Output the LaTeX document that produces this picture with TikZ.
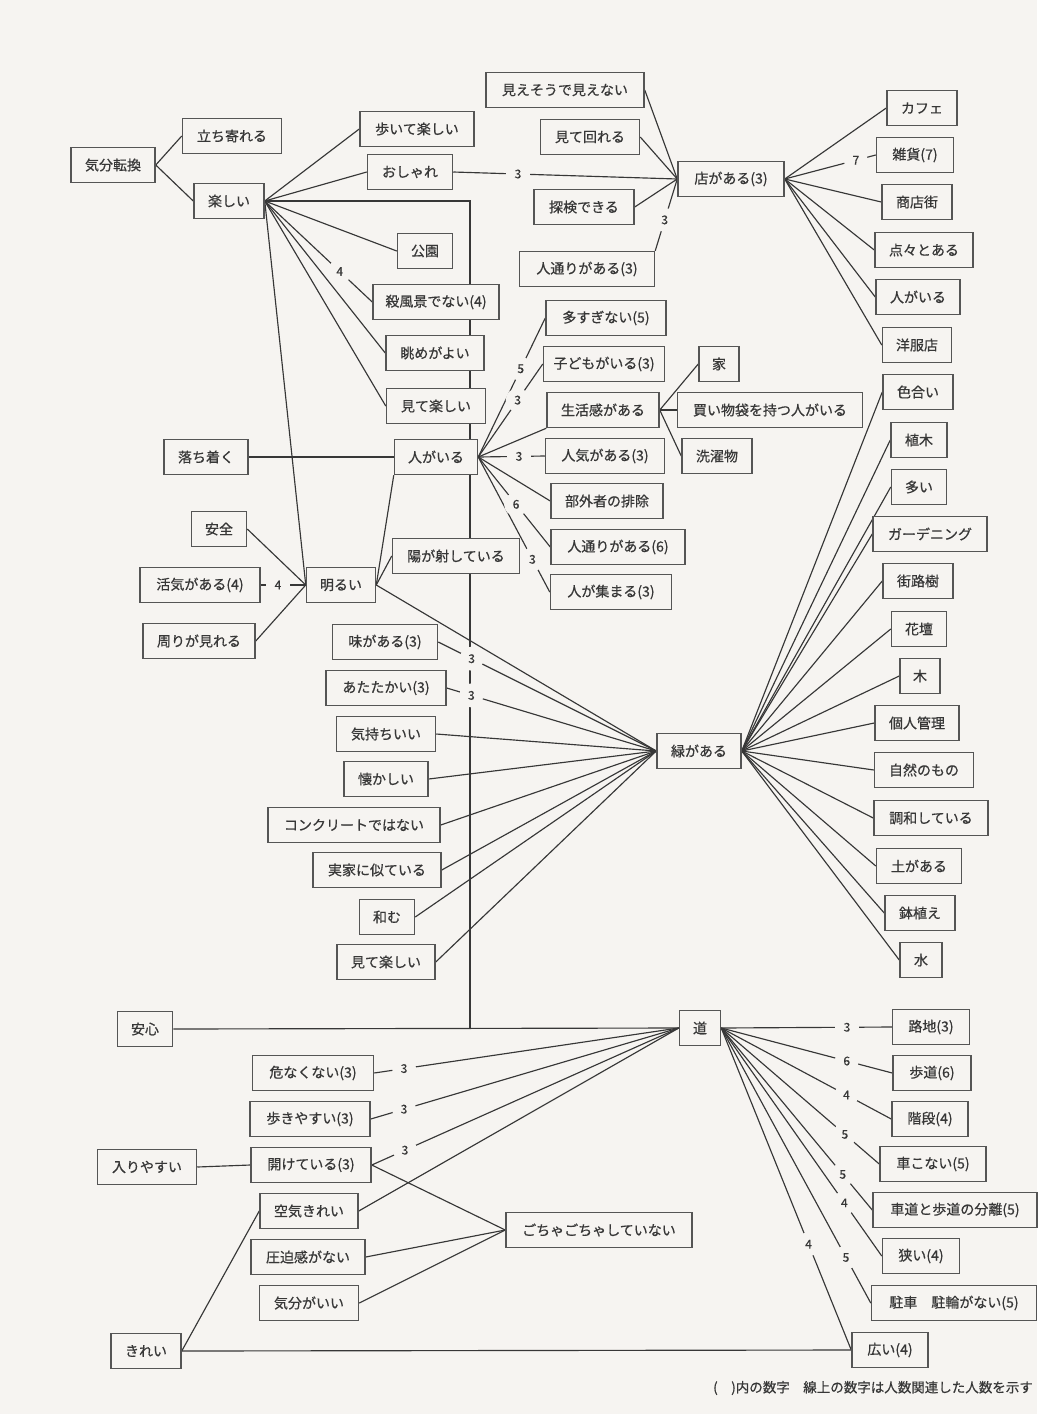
\documentclass[tikz,border=0pt]{standalone}
\usepackage{fontspec}
\setmainfont{Noto Sans CJK JP}[FakeBold=0.6]
\usetikzlibrary{calc}
\definecolor{bg}{RGB}{246,244,241}
\definecolor{ink}{RGB}{55,55,55}
\definecolor{edge}{RGB}{85,85,85}
\pgfdeclarelayer{bottom}
\pgfdeclarelayer{lines}
\pgfsetlayers{bottom,lines,main}
\newcommand\mybox[5]{\node[box,minimum width=#4pt] (#1) at (#2,#3) {#5};}
\begin{document}
\begin{tikzpicture}[x=1pt,y=-1pt,
 box/.style={draw=edge, line width=1.5pt, fill=bg, minimum height=35pt, inner sep=2pt, text=ink, font=\fontsize{14}{14}\selectfont},
 ln/.style={draw=ink, line width=1.15pt},
 lbl/.style={circle, fill=bg, inner sep=0pt, minimum size=24pt, text=ink, font=\fontsize{12}{12}\selectfont},
 captext/.style={text=ink, font=\fontsize{13.5}{14}\selectfont, inner sep=0pt}]
\begin{pgfonlayer}{bottom}
\fill[bg] (0,0) rectangle (1037,1414);
\end{pgfonlayer}
\useasboundingbox (0,0) rectangle (1037,1414);

% ---------- boxes ----------
\mybox{kibun}{113}{165}{84}{気分転換}
\mybox{tachi}{232}{136}{99}{立ち寄れる}
\mybox{tano}{229}{201}{70}{楽しい}
\mybox{aruite}{417}{129}{114}{歩いて楽しい}
\mybox{oshare}{410}{172}{85}{おしゃれ}
\mybox{koen}{425}{251}{55}{公園}
\mybox{sappu}{436}{302}{126}{殺風景でない(4)}
\mybox{nagame}{435}{353}{98}{眺めがよい}
\mybox{mite1}{436}{406}{99}{見て楽しい}
\mybox{ochi}{206}{457}{84}{落ち着く}
\mybox{hito}{436}{457}{83}{人がいる}
\mybox{anzen}{219}{529}{55}{安全}
\mybox{kakki}{200}{585}{120}{活気がある(4)}
\mybox{akarui}{341}{585}{69}{明るい}
\mybox{hi}{456}{556}{127}{陽が射している}
\mybox{mawari}{199}{641}{112}{周りが見れる}
\mybox{mie}{565}{90}{158}{見えそうで見えない}
\mybox{mite2}{590}{137}{99}{見て回れる}
\mybox{mise}{731}{179}{106}{店がある(3)}
\mybox{tanken}{584}{207}{100}{探検できる}
\mybox{hitodoria}{587}{269}{135}{人通りがある(3)}
\mybox{cafe}{922}{108}{70}{カフェ}
\mybox{zakka}{915}{155}{77}{雑貨(7)}
\mybox{shoten}{917}{202}{70}{商店街}
\mybox{tenten}{924}{250}{98}{点々とある}
\mybox{hitob}{918}{297}{84}{人がいる}
\mybox{yofuku}{917}{345}{69}{洋服店}
\mybox{oosugi}{606}{318}{120}{多すぎない(5)}
\mybox{kodomo}{604}{364}{121}{子どもがいる(3)}
\mybox{seikatsu}{603}{410}{112}{生活感がある}
\mybox{ie}{719}{364}{40}{家}
\mybox{kaimono}{770}{410}{185}{買い物袋を持つ人がいる}
\mybox{sentaku}{717}{456}{70}{洗濯物}
\mybox{ninki}{605}{456}{119}{人気がある(3)}
\mybox{bugai}{607}{501}{112}{部外者の排除}
\mybox{hitodorib}{618}{547}{134}{人通りがある(6)}
\mybox{atsumaru}{611}{592}{121}{人が集まる(3)}
\mybox{iroai}{918}{392}{70}{色合い}
\mybox{ueki}{919}{440}{56}{植木}
\mybox{ooi}{919}{487}{55}{多い}
\mybox{garden}{930}{534}{114}{ガーデニング}
\mybox{gairo}{918}{581}{70}{街路樹}
\mybox{kadan}{919}{629}{55}{花壇}
\mybox{ki}{920}{676}{40}{木}
\mybox{kojin}{917}{723}{84}{個人管理}
\mybox{shizen}{924}{770}{99}{自然のもの}
\mybox{chowa}{931}{818}{114}{調和している}
\mybox{tsuchi}{919}{866}{85}{土がある}
\mybox{hachi}{920}{913}{70}{鉢植え}
\mybox{mizu}{921}{960}{42}{水}
\mybox{aji}{385}{642}{105}{味がある(3)}
\mybox{atataka}{386}{688}{120}{あたたかい(3)}
\mybox{kimochi}{386}{734}{99}{気持ちいい}
\mybox{natsu}{386}{779}{84}{懐かしい}
\mybox{concrete}{354}{825}{172}{コンクリートではない}
\mybox{jikka}{377}{870}{128}{実家に似ている}
\mybox{nagomu}{387}{917}{55}{和む}
\mybox{mitec}{386}{962}{98}{見て楽しい}
\mybox{midori}{699}{751}{84}{緑がある}
\mybox{anshin}{145}{1029}{55}{安心}
\mybox{michi}{700}{1028}{41}{道}
\mybox{abuna}{313}{1073}{121}{危なくない(3)}
\mybox{aruki}{310}{1119}{120}{歩きやすい(3)}
\mybox{iri}{147}{1167}{99}{入りやすい}
\mybox{hirake}{311}{1165}{120}{開けている(3)}
\mybox{kuki}{309}{1211}{98}{空気きれい}
\mybox{appaku}{308}{1257}{114}{圧迫感がない}
\mybox{kibunb}{309}{1303}{99}{気分がいい}
\mybox{kirei}{146}{1351}{70}{きれい}
\mybox{gocha}{599}{1230}{186}{ごちゃごちゃしていない}
\mybox{roji}{931}{1027}{77}{路地(3)}
\mybox{hodo}{932}{1073}{78}{歩道(6)}
\mybox{kaidan}{930}{1119}{76}{階段(4)}
\mybox{kuruma}{933}{1164}{106}{車こない(5)}
\mybox{bunri}{955}{1210}{164}{車道と歩道の分離(5)}
\mybox{semai}{921}{1256}{77}{狭い(4)}
\mybox{chusha}{954}{1303}{165}{駐車　駐輪がない(5)}
\mybox{hiroi}{890}{1350}{76}{広い(4)}

\coordinate (J) at (470,1028);

% ---------- connectors ----------
\begin{pgfonlayer}{lines}
\draw[ln] (kibun.east) -- (tachi.west);
\draw[ln] (kibun.east) -- (tano.west);
\foreach \t in {aruite,oshare,koen,sappu,nagame,mite1,akarui}
  \draw[ln] (tano.east) -- (\t.west);
\draw[ln] (tano.east) -| (J);
\draw[ln] (anshin.east) -- (michi.west);
\draw[ln] (oshare.east) -- (mise.west);
\foreach \t in {mie,mite2,tanken}
  \draw[ln] (\t.east) -- (mise.west);
\draw[ln] (hitodoria.north east) -- (mise.west);
\foreach \t in {cafe,zakka,shoten,tenten,hitob,yofuku}
  \draw[ln] (mise.east) -- (\t.west);
\draw[ln] (ochi.east) -- (hito.west);
\draw[ln] (akarui.east) -- (hito.south west);
\draw[ln] (akarui.east) -- (hi.west);
\draw[ln] (akarui.east) -- (midori.west);
\foreach \t in {anzen,kakki,mawari}
  \draw[ln] (\t.east) -- (akarui.west);
\foreach \t in {oosugi,kodomo,ninki,bugai,hitodorib,atsumaru}
  \draw[ln] (hito.east) -- (\t.west);
\draw[ln] (hito.east) -- (seikatsu.south west);
\foreach \t in {ie,kaimono,sentaku}
  \draw[ln] (seikatsu.east) -- (\t.west);
\foreach \t in {aji,atataka,kimochi,natsu,concrete,jikka,nagomu,mitec}
  \draw[ln] (\t.east) -- (midori.west);
\foreach \t in {iroai,ueki,ooi,garden,gairo,kadan,ki,kojin,shizen,chowa,tsuchi,hachi,mizu}
  \draw[ln] (midori.east) -- (\t.west);
\foreach \t in {abuna,aruki,hirake,kuki}
  \draw[ln] (\t.east) -- (michi.west);
\foreach \t in {roji,hodo,kaidan,kuruma,bunri,semai,chusha,hiroi}
  \draw[ln] (michi.east) -- (\t.west);
\draw[ln] (iri.east) -- (hirake.west);
\foreach \t in {hirake,appaku,kibunb}
  \draw[ln] (\t.east) -- (gocha.west);
\draw[ln] (kirei.east) -- (kuki.west);
\draw[ln] (kirei.east) -- (hiroi.west);
\end{pgfonlayer}

% ---------- numbers on connectors ----------
\node[lbl] (n1) at ($(oshare.east)!(518,173)!(mise.west)$) {3};
\node[lbl] (n2) at ($(hitodoria.north east)!(665,220)!(mise.west)$) {3};
\node[lbl] (n3) at ($(mise.east)!(856,161)!(zakka.west)$) {7};
\node[lbl] (n4) at ($(tano.east)!(343,268)!(sappu.west)$) {4};
\node[lbl] (n5) at ($(hito.east)!(519,368)!(oosugi.west)$) {5};
\node[lbl] (n6) at ($(hito.east)!(519,401)!(kodomo.west)$) {3};
\node[lbl] (n7) at ($(hito.east)!(519,456)!(ninki.west)$) {3};
\node[lbl] (n8) at ($(hito.east)!(519,502)!(hitodorib.west)$) {6};
\node[lbl] (n9) at ($(hito.east)!(535,558)!(atsumaru.west)$) {3};
\node[lbl] (n10) at ($(kakki.east)!(278,585)!(akarui.west)$) {4};
\node[lbl] (n11) at ($(aji.east)!(470,662)!(midori.west)$) {3};
\node[lbl] (n12) at ($(atataka.east)!(470,700)!(midori.west)$) {3};
\node[lbl] (n13) at ($(abuna.east)!(404,1068)!(michi.west)$) {3};
\node[lbl] (n14) at ($(aruki.east)!(404,1109)!(michi.west)$) {3};
\node[lbl] (n15) at ($(hirake.east)!(404,1148)!(michi.west)$) {3};
\node[lbl] (n16) at ($(michi.east)!(847,1027)!(roji.west)$) {3};
\node[lbl] (n17) at ($(michi.east)!(847,1060)!(hodo.west)$) {6};
\node[lbl] (n18) at ($(michi.east)!(847,1094)!(kaidan.west)$) {4};
\node[lbl] (n19) at ($(michi.east)!(847,1132)!(kuruma.west)$) {5};
\node[lbl] (n20) at ($(michi.east)!(847,1171)!(bunri.west)$) {5};
\node[lbl] (n21) at ($(michi.east)!(847,1201)!(semai.west)$) {4};
\node[lbl] (n22) at ($(michi.east)!(847,1257)!(chusha.west)$) {5};
\node[lbl] (n23) at ($(michi.east)!(809,1244)!(hiroi.west)$) {4};

\node[captext, anchor=east] (caption) at (1033,1388) {(　)内の数字　線上の数字は人数関連した人数を示す};
\end{tikzpicture}
\end{document}
